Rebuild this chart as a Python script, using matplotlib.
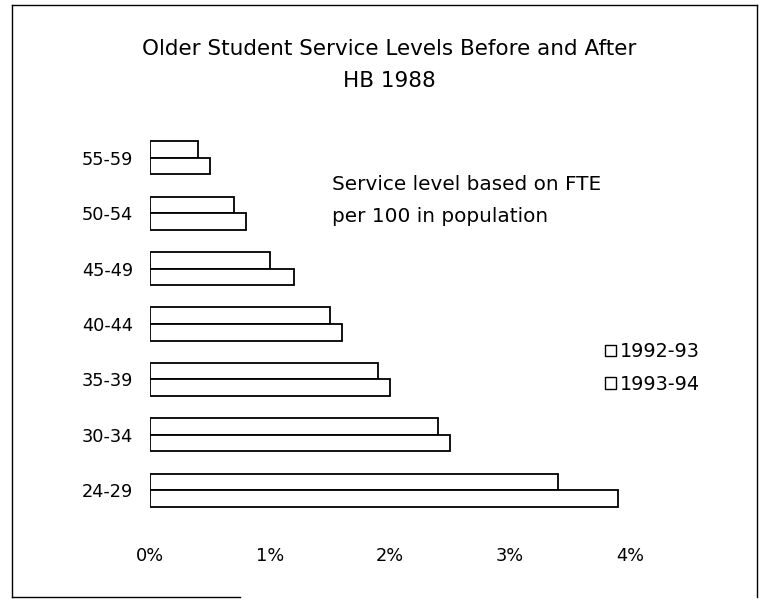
import matplotlib.pyplot as plt
import numpy as np
from matplotlib.patches import Patch
from matplotlib.lines import Line2D

plt.rcParams['font.family'] = ['DejaVu Sans']

# age groups, bottom to top
ages = ['24-29', '30-34', '35-39', '40-44', '45-49', '50-54', '55-59']
# service level (% FTE per 100 in population)
lvl_9293 = [3.4, 2.4, 1.9, 1.5, 1.0, 0.7, 0.4]
lvl_9394 = [3.9, 2.5, 2.0, 1.6, 1.2, 0.8, 0.5]
xticks = [0, 1, 2, 3, 4]

W, H = 763, 600
fig = plt.figure(figsize=(W / 100, H / 100), dpi=100)
ax = fig.add_axes([150 / W, 1 - 529 / H, 480 / W, 410 / H])

y = np.arange(len(ages))
h = 0.3
ax.barh(y + h / 2, lvl_9293, height=h, color='white', edgecolor='black', linewidth=1.3, label='1992-93')
ax.barh(y - h / 2, lvl_9394, height=h, color='white', edgecolor='black', linewidth=1.3, label='1993-94')

ax.set_xlim(0, 4)
ax.set_ylim(-0.7, 6.7)
ax.set_yticks(y)
ax.set_yticklabels(ages)
ax.set_xticks(xticks)
ax.set_xticklabels([f'{t}%' for t in xticks])
ax.tick_params(axis='both', length=0, labelsize=12.8)
ax.tick_params(axis='x', pad=13)
ax.tick_params(axis='y', pad=12)
for s in ax.spines.values():
    s.set_visible(False)

fig.text(389 / W, 1 - 49 / H, 'Older Student Service Levels Before and After',
         ha='center', va='center', fontsize=15.5)
fig.text(389 / W, 1 - 81 / H, 'HB 1988', ha='center', va='center', fontsize=15.5)

fig.text(332 / W, 1 - 185 / H, 'Service level based on FTE', ha='left', va='center', fontsize=14.4)
fig.text(332 / W, 1 - 216 / H, 'per 100 in population', ha='left', va='center', fontsize=14.4)

handles = [Patch(facecolor='white', edgecolor='black', linewidth=1.0, label='1992-93'),
           Patch(facecolor='white', edgecolor='black', linewidth=1.0, label='1993-94')]
fig.legend(handles=handles, loc='center left', bbox_to_anchor=(605 / W, 1 - 368 / H),
           frameon=False, fontsize=13.8, handlelength=0.55, handleheight=0.55,
           handletextpad=0.2, labelspacing=0.7, borderpad=0, borderaxespad=0)

# outer frame (partly faded on the scan)
frame = [((12, 12), (5, 597)), ((12, 757), (5, 5)), ((757, 757), (5, 597)), ((12, 240), (597, 597))]
for xs, ys in frame:
    fig.add_artist(Line2D([v / W for v in xs], [1 - v / H for v in ys], color='black', linewidth=1.0))

fig.savefig('out.png', dpi=100)
